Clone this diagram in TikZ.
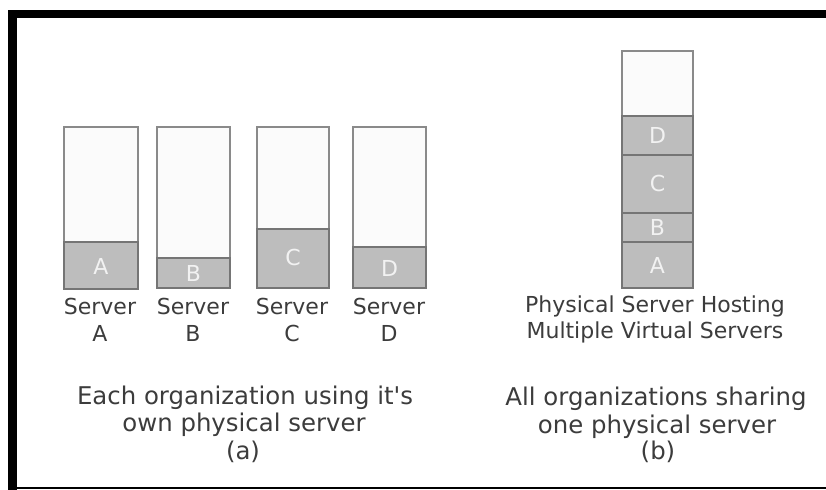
\documentclass[tikz,border=0pt]{standalone}
\usepackage{fontspec}
\setmainfont{DejaVu Sans}
\definecolor{frame}{HTML}{8A8A8A}
\definecolor{vmfill}{HTML}{BDBDBD}
\definecolor{freefill}{HTML}{FBFBFB}
\definecolor{txt}{HTML}{3C3C3C}
\definecolor{vmtxt}{HTML}{F2F2F2}
\tikzset{
  freepart/.style={draw=frame, fill=freefill, line width=0.75pt},
  usedpart/.style={draw=frame!85!black, fill=vmfill, line width=0.75pt},
  lbl/.style={inner sep=0pt, anchor=base, text=txt, font=\fontsize{11}{13}\selectfont},
  captext/.style={lbl, font=\fontsize{12.2}{14}\selectfont},
  vmlbl/.style={inner sep=0pt, text=vmtxt, font=\fontsize{11}{13}\selectfont},
}
\begin{document}
\begin{tikzpicture}[x=0.5pt,y=-0.5pt]
\useasboundingbox (0,0) rectangle (826,490);
\fill[white] (0,0) rectangle (826,490);
% outer frame: heavy top and left edges, hairline bottom
\fill[black] (8,10) rectangle (826,18);
\fill[black] (8,10) rectangle (17,490);
\fill[black] (8,487) rectangle (826,489);

% (a) one physical server per organization
\draw[freepart] (64,127) rectangle (138,289);
\draw[usedpart] (64,242) rectangle (138,289);
\node[vmlbl] (a-vm) at (101,266) {A};
\draw[freepart] (157,127) rectangle (230,288);
\draw[usedpart] (157,258) rectangle (230,288);
\node[vmlbl] (b-vm) at (193.5,273) {B};
\draw[freepart] (257,127) rectangle (329,288);
\draw[usedpart] (257,229) rectangle (329,288);
\node[vmlbl] (c-vm) at (293,258) {C};
\draw[freepart] (353,127) rectangle (426,288);
\draw[usedpart] (353,247) rectangle (426,288);
\node[vmlbl] (d-vm) at (389.5,268) {D};

\node[lbl] (sa1) at (100,315) {Server};
\node[lbl] (sa2) at (100,342) {A};
\node[lbl] (sb1) at (193,315) {Server};
\node[lbl] (sb2) at (193,342) {B};
\node[lbl] (sc1) at (292,315) {Server};
\node[lbl] (sc2) at (292,342) {C};
\node[lbl] (sd1) at (389,315) {Server};
\node[lbl] (sd2) at (389,342) {D};

\node[captext] (capa1) at (245,405) {Each organization using it\textquotesingle s};
\node[captext] (capa2) at (244,432) {own physical server};
\node[captext] (capa3) at (243,460) {(a)};

% (b) one physical server hosting all virtual servers
\draw[freepart] (622,51) rectangle (693,288);
\draw[usedpart] (622,116) rectangle (693,155);
\draw[usedpart] (622,155) rectangle (693,213);
\draw[usedpart] (622,213) rectangle (693,242);
\draw[usedpart] (622,242) rectangle (693,288);
\node[vmlbl] (vd) at (657.5,135.5) {D};
\node[vmlbl] (vc) at (657.5,184) {C};
\node[vmlbl] (vb) at (657.5,227.5) {B};
\node[vmlbl] (va) at (657.5,265) {A};

\node[lbl] (hb1) at (655,313) {Physical Server Hosting};
\node[lbl] (hb2) at (655,339) {Multiple Virtual Servers};

\node[captext] (capb1) at (656,406) {All organizations sharing};
\node[captext] (capb2) at (657,434) {one physical server};
\node[captext] (capb3) at (658,460) {(b)};
\end{tikzpicture}
\end{document}
